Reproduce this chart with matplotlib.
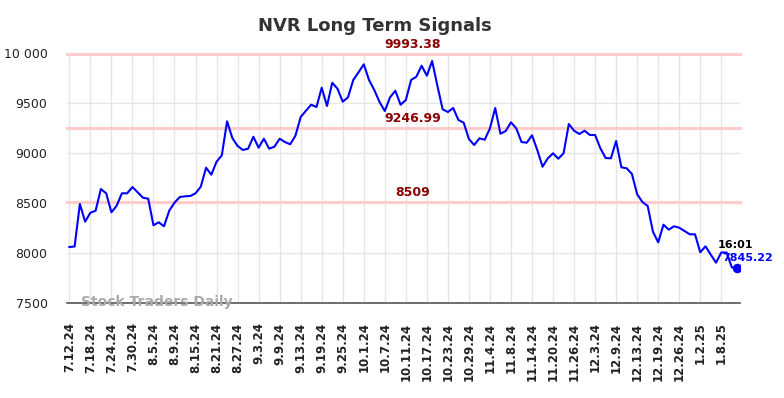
import matplotlib
matplotlib.use("Agg")
import matplotlib.pyplot as plt

# ---- data ----
prices = [
    8060, 8065, 8490, 8313, 8403, 8423, 8640, 8597, 8407, 8473,
    8597, 8597, 8660, 8607, 8553, 8543, 8277, 8307, 8267, 8423,
    8503, 8560, 8567, 8570, 8597, 8663, 8853, 8783, 8913, 8977,
    9317, 9150, 9070, 9030, 9043, 9163, 9053, 9143, 9043, 9063,
    9143, 9110, 9087, 9173, 9360, 9423, 9483, 9460, 9653, 9470,
    9703, 9643, 9513, 9557, 9730, 9807, 9887, 9730, 9630, 9510,
    9420, 9557, 9623, 9483, 9530, 9730, 9763, 9873, 9773, 9920,
    9673, 9437, 9410, 9450, 9330, 9303, 9140, 9080, 9147, 9133,
    9247, 9450, 9193, 9220, 9307, 9247, 9110, 9103, 9177, 9030,
    8863, 8947, 8997, 8943, 8997, 9290, 9223, 9190, 9223, 9180,
    9180, 9047, 8950, 8947, 9120, 8857, 8847, 8790, 8587, 8510,
    8470, 8213, 8107, 8283, 8233, 8267, 8253, 8220, 8187, 8187,
    8007, 8067, 7983, 7903, 8005, 8005, 7857, 7845.22,
]
tick_labels = [
    "7.12.24", "7.18.24", "7.24.24", "7.30.24", "8.5.24", "8.9.24",
    "8.15.24", "8.21.24", "8.27.24", "9.3.24", "9.9.24", "9.13.24",
    "9.19.24", "9.25.24", "10.1.24", "10.7.24", "10.11.24", "10.17.24",
    "10.23.24", "10.29.24", "11.4.24", "11.8.24", "11.14.24", "11.20.24",
    "11.26.24", "12.3.24", "12.9.24", "12.13.24", "12.19.24", "12.26.24",
    "1.2.25", "1.8.25",
]
tick_step = 4
levels = [9993.38, 9246.99, 8509]
level_labels = ["9993.38", "9246.99", "8509"]
last_time = "16:01"
title = "NVR Long Term Signals"
watermark = "Stock Traders Daily"

# ---- figure ----
fig = plt.figure(figsize=(7.84, 3.98), dpi=100)
ax = fig.add_axes([0.0855, 0.2387, 0.8584, 0.6281])

x = list(range(len(prices)))
ax.set_xlim(-0.44, 127.56)
ax.set_ylim(7500, 10000)

for lv, lb in zip(levels, level_labels):
    ax.axhline(lv, color="#ffcccc", lw=2.2, zorder=1, clip_on=False)
    ax.annotate(lb, xy=(0.514, lv), xycoords=ax.get_yaxis_transform(),
                xytext=(0, 3), textcoords="offset pixels",
                ha="center", va="bottom", fontsize=9, fontweight="bold",
                color="#8b0000", zorder=4, annotation_clip=False)

ax.plot(x, prices, color="#0000ff", lw=1.5, zorder=3)
ax.scatter([x[-1]], [prices[-1]], s=34, color="#0000ff", zorder=4)

ax.annotate(last_time, xy=(x[-1], prices[-1]), xytext=(-19, 23),
            textcoords="offset pixels", ha="left", va="center",
            fontsize=8, fontweight="bold", color="black")
ax.annotate(f"{prices[-1]:.2f}", xy=(x[-1], prices[-1]), xytext=(-15, 10),
            textcoords="offset pixels", ha="left", va="center",
            fontsize=8, fontweight="bold", color="#0000ff")

ax.set_xticks(x[::tick_step][:len(tick_labels)])
ax.set_xticklabels(tick_labels, rotation=90, fontsize=8.5, fontweight="bold")
yt = [7500, 8000, 8500, 9000, 9500, 10000]
ax.set_yticks(yt)
ax.set_yticklabels([f"{v:,}".replace(",", " ") if v >= 10000 else str(v) for v in yt],
                   fontsize=9)
ax.tick_params(axis="both", length=0, colors="#222222")
ax.tick_params(axis="x", pad=14)
ax.tick_params(axis="y", pad=14)

ax.grid(True, color="#e6e6e6", lw=1, zorder=0)
ax.set_axisbelow(True)
for s in ["top", "right", "left"]:
    ax.spines[s].set_visible(False)
ax.spines["bottom"].set_color("#555555")
ax.spines["bottom"].set_linewidth(1.2)

ax.text(0.0208, 0.004, watermark, transform=ax.transAxes, ha="left",
        va="center", fontsize=10, fontweight="bold", color="#aaaaaa", zorder=5)

fig.text(0.478, 0.935, title, ha="center", va="center", fontsize=13,
         fontweight="bold", color="#333333")

fig.savefig("out.png", dpi=100)
